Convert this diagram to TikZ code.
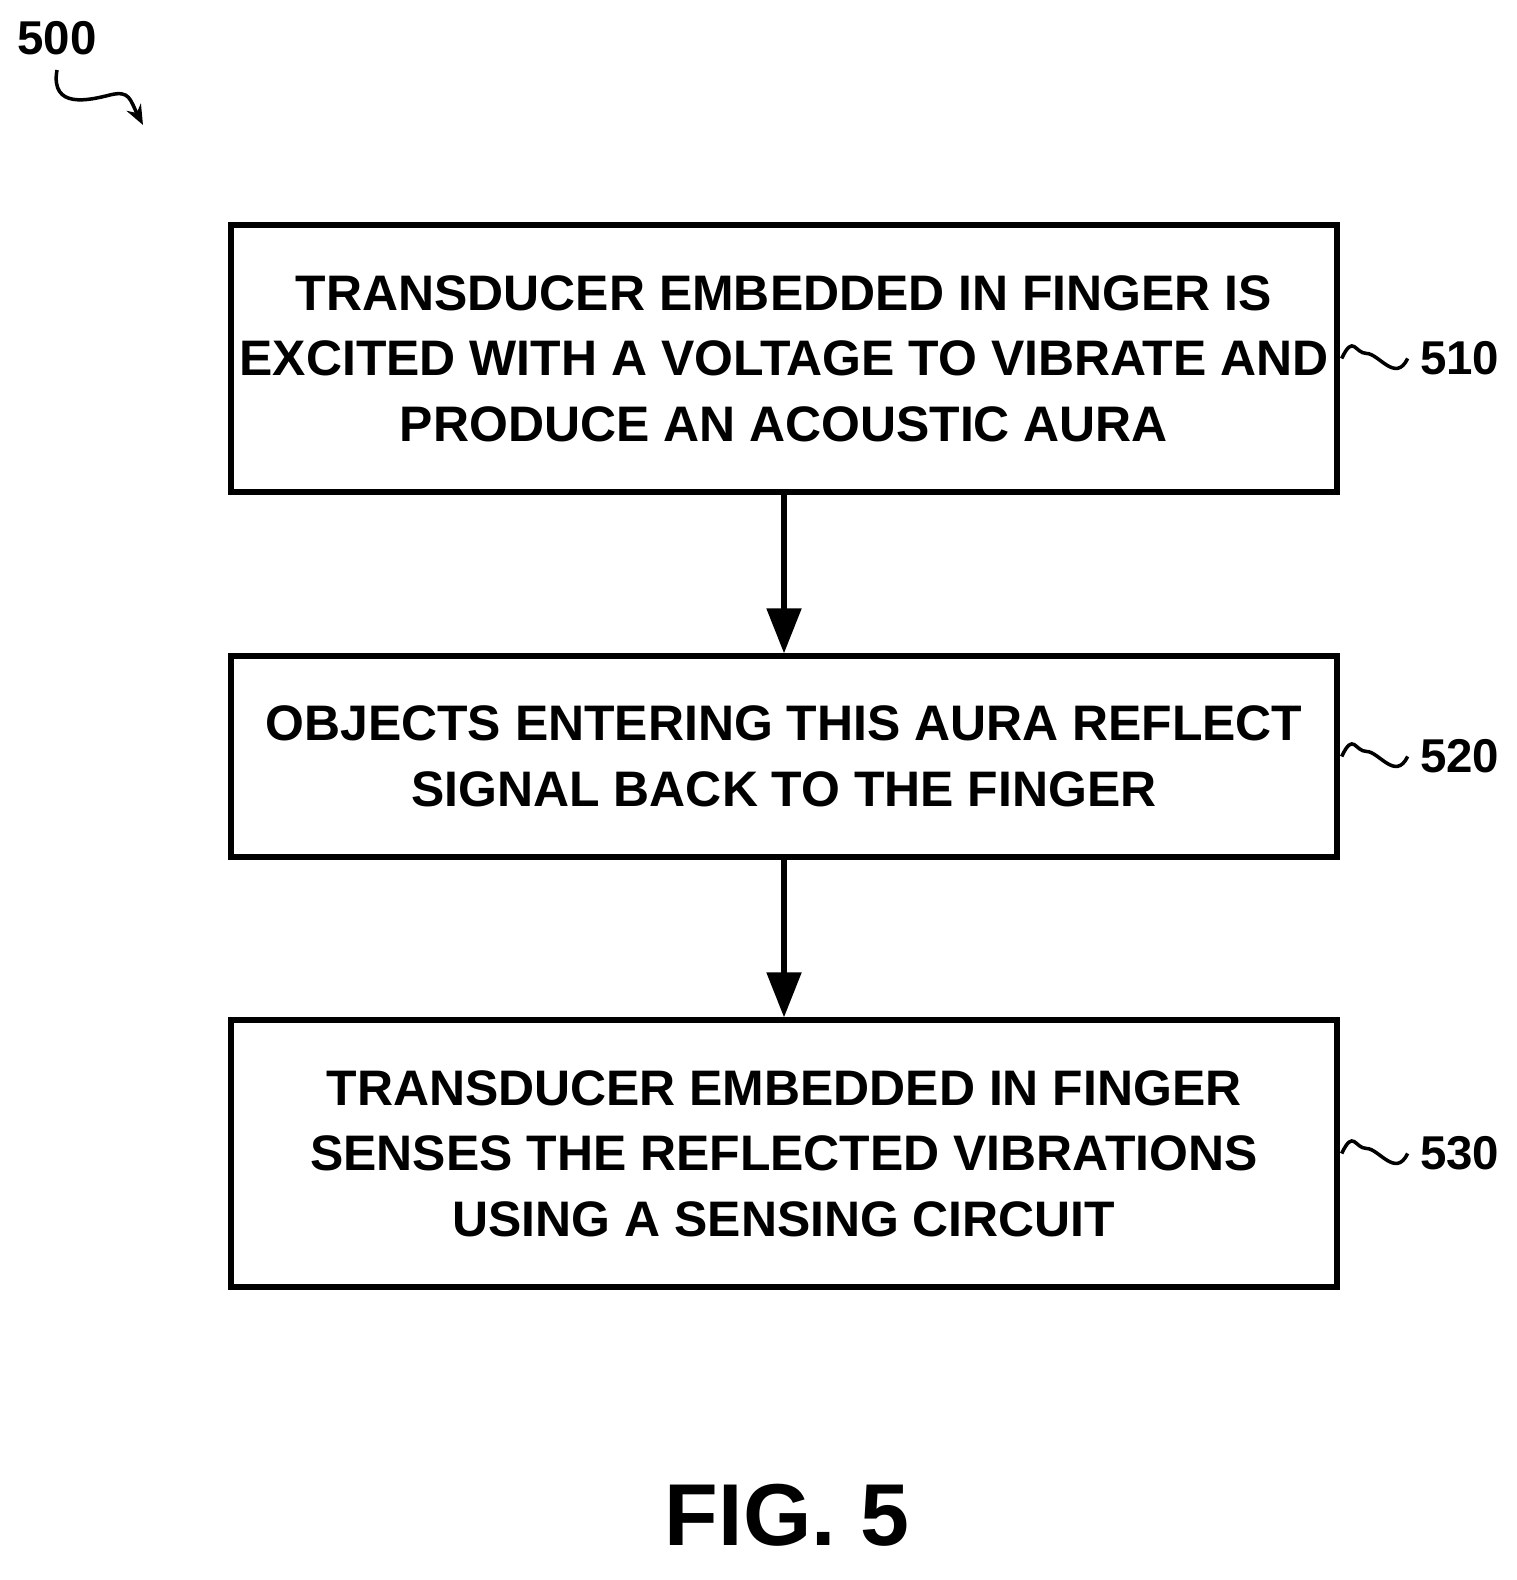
\documentclass[tikz,border=0pt]{standalone}
\usepackage{fontspec}
\setmainfont{Liberation Sans}
\usetikzlibrary{arrows.meta,positioning}
\tikzset{
  stepbox/.style={draw=black,line width=1.5pt,minimum width=11.06cm,align=center,
    font=\fontsize{14.2}{18.6}\selectfont\bfseries,inner sep=0pt},
  flow/.style={line width=1.5pt,-{Triangle[length=0.45cm,width=0.34cm]}},
  ref/.style={font=\fontsize{13.5}{16}\selectfont\bfseries,anchor=west},
  squig/.style={line width=1pt}
}
\begin{document}
\begin{tikzpicture}
\useasboundingbox (0,0) rectangle (15.16,15.80);
% steps
\node[stepbox,minimum height=2.67cm] (s510) at (7.84,12.215) {TRANSDUCER EMBEDDED IN FINGER IS\\EXCITED WITH A VOLTAGE TO VIBRATE AND\\PRODUCE AN ACOUSTIC AURA};
\node[stepbox,minimum height=2.01cm] (s520) at (7.84,8.235) {OBJECTS ENTERING THIS AURA REFLECT\\SIGNAL BACK TO THE FINGER};
\node[stepbox,minimum height=2.67cm] (s530) at (7.84,4.265) {TRANSDUCER EMBEDDED IN FINGER\\SENSES THE REFLECTED VIBRATIONS\\USING A SENSING CIRCUIT};
% arrows
\draw[flow] (s510) -- (s520);
\draw[flow] (s520) -- (s530);
% reference labels
\foreach \s/\n in {s510/510,s520/520,s530/530}{
  \node[ref] (l\n) at ([xshift=0.68cm]\s.east) {\n};
  \draw[squig] ([xshift=0.02cm]\s.east) .. controls +(0.12,0.25) and +(-0.12,0) .. +(0.25,0.05)
    .. controls +(0.12,0) and +(-0.12,-0.25) .. (l\n.west);
}
% figure number
\node[font=\fontsize{13.5}{16}\selectfont\bfseries] (fig) at (0.57,15.42) {500};
\coordinate (tip) at (1.43,14.55);
\draw[squig,-{Stealth[length=0.2cm,width=0.16cm]}] (0.57,15.1) .. controls (0.5,14.7) and (0.9,14.8) .. (1.1,14.85) .. controls (1.3,14.9) and (1.3,14.8) .. (tip);
\node[font=\fontsize{25}{30}\selectfont\bfseries] (title) at (7.87,0.65) {FIG. 5};
\end{tikzpicture}
\end{document}
